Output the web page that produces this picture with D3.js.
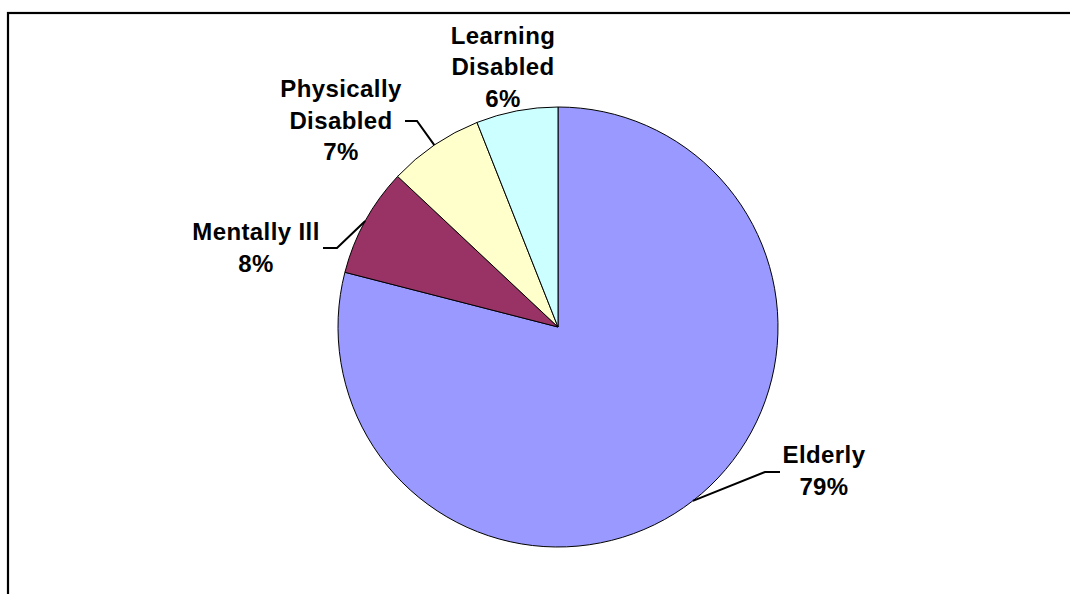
<!DOCTYPE html>
<html>
<head>
<meta charset="utf-8">
<script src="https://cdn.jsdelivr.net/npm/d3@7"></script>
<style>
  html, body { margin: 0; padding: 0; background: #fff; }
  svg { display: block; }
  text { font-family: "Liberation Sans", Arial, sans-serif; font-weight: bold; font-size: 24px; letter-spacing: 0.4px; fill: #000; }
</style>
</head>
<body>
<svg id="chart" width="1070" height="594"></svg>
<script>
// Share of clients by group (percent)
const categories = ["Elderly", "Mentally Ill", "Physically Disabled", "Learning Disabled"];
const values = [79, 8, 7, 6];
const labelLines = [["Elderly"], ["Mentally Ill"], ["Physically", "Disabled"], ["Learning", "Disabled"]];
const colors = ["#9999FF", "#993366", "#FFFFCC", "#CCFFFF"];

// Label placement: text centre x, first baseline y, and leader elbow (null = no leader)
const labelLayout = [
  { x: 824, y: 463, elbow: [[780, 472], [765, 472]] },
  { x: 256, y: 240, elbow: [[323, 248], [337, 248]] },
  { x: 341, y: 97, elbow: [[405, 121], [417, 121]] },
  { x: 503, y: 43.5, elbow: null }
];
const lineGap = 31.5;

const svg = d3.select("#chart");
const W = 1070, H = 594;

// Chart frame (extends beyond the visible area on the right and bottom)
svg.append("rect")
  .attr("x", 8).attr("y", 13)
  .attr("width", W + 20).attr("height", H + 20)
  .attr("fill", "none")
  .attr("stroke", "#000")
  .attr("stroke-width", 2.2);

const cx = 558, cy = 327, r = 220;

const pie = d3.pie().sort(null).value(d => d)(values);
const arc = d3.arc().innerRadius(0).outerRadius(r);

const g = svg.append("g").attr("transform", `translate(${cx},${cy})`);

g.selectAll("path.slice")
  .data(pie)
  .join("path")
  .attr("class", "slice")
  .attr("d", arc)
  .attr("fill", (d, i) => colors[i])
  .attr("stroke", "#000")
  .attr("stroke-width", 1);

// Leader lines from slice mid-angle on the rim to the label elbow
pie.forEach((d, i) => {
  const L = labelLayout[i];
  if (!L.elbow) return;
  const a = (d.startAngle + d.endAngle) / 2;
  const rim = [cx + r * Math.sin(a), cy - r * Math.cos(a)];
  const pts = [L.elbow[0], L.elbow[1], rim];
  svg.append("path")
    .attr("d", d3.line()(pts))
    .attr("fill", "none")
    .attr("stroke", "#000")
    .attr("stroke-width", 2);
});

// Labels: category name lines followed by percentage
pie.forEach((d, i) => {
  const L = labelLayout[i];
  const lines = labelLines[i].concat([d3.format(".0f")(values[i]) + "%"]);
  const t = svg.append("text")
    .attr("text-anchor", "middle")
    .attr("x", L.x).attr("y", L.y);
  lines.forEach((s, k) => {
    t.append("tspan")
      .attr("x", L.x)
      .attr("y", L.y + k * lineGap)
      .text(s);
  });
});
</script>
</body>
</html>
